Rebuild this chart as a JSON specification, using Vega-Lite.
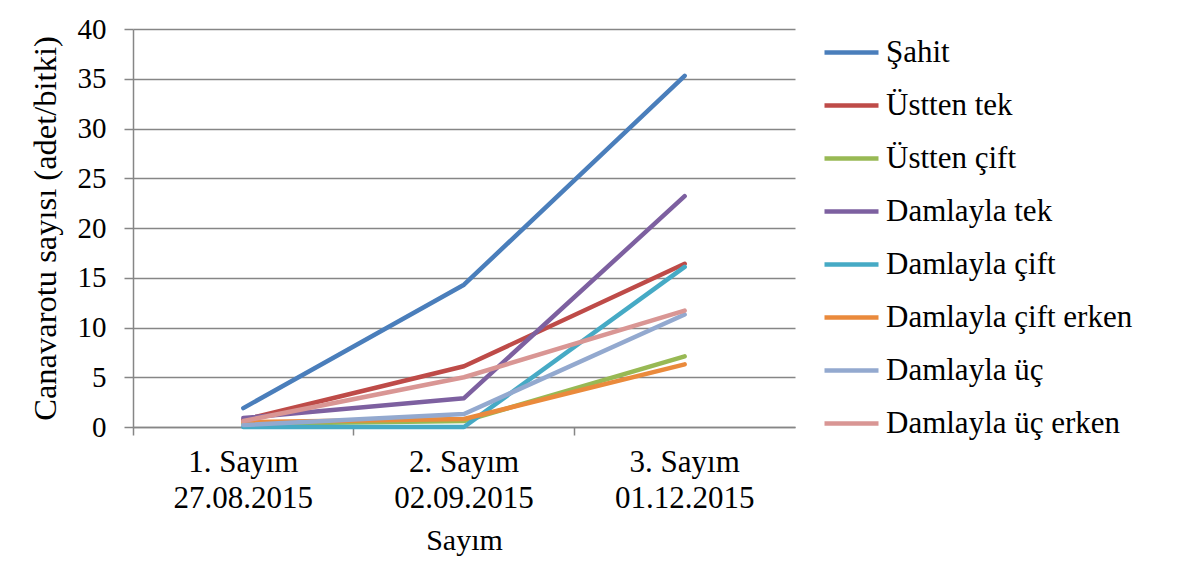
{
  "$schema": "https://vega.github.io/schema/vega-lite/v6.json",
  "width": 662,
  "height": 398,
  "autosize": {"type": "none"},
  "padding": {"left": 133, "top": 29, "right": 388, "bottom": 151},
  "background": "white",
  "config": {
    "font": "Liberation Serif",
    "view": {"stroke": null},
    "axis": {"labelColor": "black", "titleColor": "black", "labelFont": "Liberation Serif", "titleFont": "Liberation Serif"},
    "legend": {"labelFont": "Liberation Serif", "titleFont": "Liberation Serif"},
    "text": {"font": "Liberation Serif"}
  },
  "data": {
    "values": [
      {"sayim": "1. Sayım|27.08.2015", "seri": "Şahit", "deger": 1.9},
      {"sayim": "2. Sayım|02.09.2015", "seri": "Şahit", "deger": 14.3},
      {"sayim": "3. Sayım|01.12.2015", "seri": "Şahit", "deger": 35.3},
      {"sayim": "1. Sayım|27.08.2015", "seri": "Üstten tek", "deger": 0.7},
      {"sayim": "2. Sayım|02.09.2015", "seri": "Üstten tek", "deger": 6.1},
      {"sayim": "3. Sayım|01.12.2015", "seri": "Üstten tek", "deger": 16.4},
      {"sayim": "1. Sayım|27.08.2015", "seri": "Üstten çift", "deger": 0.3},
      {"sayim": "2. Sayım|02.09.2015", "seri": "Üstten çift", "deger": 0.6},
      {"sayim": "3. Sayım|01.12.2015", "seri": "Üstten çift", "deger": 7.1},
      {"sayim": "1. Sayım|27.08.2015", "seri": "Damlayla tek", "deger": 0.9},
      {"sayim": "2. Sayım|02.09.2015", "seri": "Damlayla tek", "deger": 2.9},
      {"sayim": "3. Sayım|01.12.2015", "seri": "Damlayla tek", "deger": 23.2},
      {"sayim": "1. Sayım|27.08.2015", "seri": "Damlayla çift", "deger": 0},
      {"sayim": "2. Sayım|02.09.2015", "seri": "Damlayla çift", "deger": 0},
      {"sayim": "3. Sayım|01.12.2015", "seri": "Damlayla çift", "deger": 16.1},
      {"sayim": "1. Sayım|27.08.2015", "seri": "Damlayla çift erken", "deger": 0.5},
      {"sayim": "2. Sayım|02.09.2015", "seri": "Damlayla çift erken", "deger": 0.8},
      {"sayim": "3. Sayım|01.12.2015", "seri": "Damlayla çift erken", "deger": 6.3},
      {"sayim": "1. Sayım|27.08.2015", "seri": "Damlayla üç", "deger": 0.2},
      {"sayim": "2. Sayım|02.09.2015", "seri": "Damlayla üç", "deger": 1.3},
      {"sayim": "3. Sayım|01.12.2015", "seri": "Damlayla üç", "deger": 11.3},
      {"sayim": "1. Sayım|27.08.2015", "seri": "Damlayla üç erken", "deger": 0.6},
      {"sayim": "2. Sayım|02.09.2015", "seri": "Damlayla üç erken", "deger": 5.0},
      {"sayim": "3. Sayım|01.12.2015", "seri": "Damlayla üç erken", "deger": 11.7}
    ]
  },
  "layer": [
    {
      "mark": {"type": "tick", "opacity": 0},
      "encoding": {
        "x": {
          "field": "sayim", "type": "nominal",
          "sort": ["1. Sayım|27.08.2015", "2. Sayım|02.09.2015", "3. Sayım|01.12.2015"],
          "scale": {"type": "band", "paddingInner": 0, "paddingOuter": 0},
          "axis": {"orient": "bottom", "bandPosition": 0, "labels": false, "ticks": true, "tickSize": 8, "tickColor": "#868686", "tickWidth": 1.5, "domain": false, "title": null, "grid": false}
        }
      }
    },
    {
      "mark": {"type": "line", "strokeWidth": 4.5, "strokeCap": "round", "strokeJoin": "round"},
      "encoding": {
        "x": {
          "field": "sayim", "type": "nominal",
          "sort": ["1. Sayım|27.08.2015", "2. Sayım|02.09.2015", "3. Sayım|01.12.2015"],
          "bandPosition": 0.5,
          "scale": {"type": "band", "paddingInner": 0, "paddingOuter": 0},
          "axis": {
            "orient": "bottom",
            "title": "Sayım", "labelExpr": "split(datum.label, '|')", "ticks": false, "labelAngle": 0,
            "labelFont": "Liberation Serif", "titleFont": "Liberation Serif",
            "labelFontSize": 31, "labelLineHeight": 36, "labelPadding": 20,
            "domainColor": "#868686", "domainWidth": 1.5, "grid": false,
            "titleFontSize": 30, "titleFontWeight": "normal", "titlePadding": 12
          }
        },
        "y": {
          "field": "deger", "type": "quantitative",
          "scale": {"domain": [0, 40], "nice": false},
          "axis": {
            "title": "Canavarotu sayısı (adet/bitki)", "values": [0, 5, 10, 15, 20, 25, 30, 35, 40],
            "labelFont": "Liberation Serif", "titleFont": "Liberation Serif",
            "labelFontSize": 29, "tickSize": 9, "labelPadding": 18,
            "gridColor": "#868686", "gridWidth": 1.4, "domainColor": "#868686", "domainWidth": 1.5,
            "tickColor": "#868686", "tickWidth": 1.5,
            "titleFontSize": 32.5, "titleFontWeight": "normal", "titlePadding": 15
          }
        },
        "color": {
          "field": "seri", "type": "nominal",
          "scale": {
            "domain": ["Şahit", "Üstten tek", "Üstten çift", "Damlayla tek", "Damlayla çift", "Damlayla çift erken", "Damlayla üç", "Damlayla üç erken"],
            "range": ["#4A7EBB", "#BE4B48", "#98B954", "#7D60A0", "#46AAC5", "#EA8A3C", "#93A9CF", "#D99694"]
          },
          "legend": {
            "title": null, "orient": "none", "legendX": 689, "legendY": -6,
            "symbolType": "stroke", "symbolSize": 2916, "symbolStrokeWidth": 4.5,
            "labelFont": "Liberation Serif",
            "labelFontSize": 31, "labelColor": "black", "labelOffset": 5, "rowPadding": 8, "labelLimit": 400
          }
        }
      }
    }
  ],
  "resolve": {"axis": {"x": "independent"}}
}
